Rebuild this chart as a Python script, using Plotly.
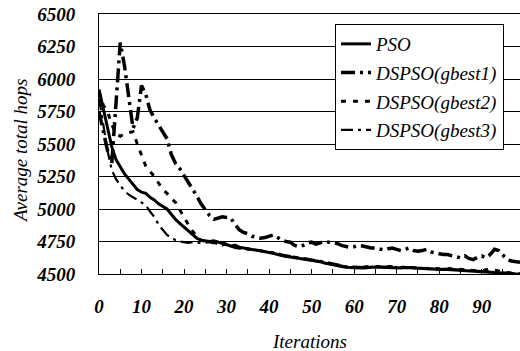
import plotly.graph_objects as go

iterations = list(range(100))

pso = [5920, 5780, 5620, 5480, 5380, 5320, 5270, 5230, 5190, 5150,
       5130, 5120, 5090, 5070, 5040, 5020, 5000, 4960, 4920, 4890,
       4860, 4830, 4800, 4775, 4760, 4755, 4750, 4755, 4745, 4730,
       4725, 4715, 4720, 4705, 4700, 4695, 4690, 4685, 4680, 4670,
       4665, 4660, 4650, 4640, 4635, 4630, 4625, 4620, 4615, 4612,
       4608, 4600, 4595, 4585, 4578, 4570, 4562, 4556, 4552, 4550,
       4548, 4546, 4546, 4548, 4552, 4554, 4552, 4550, 4552, 4550,
       4548, 4546, 4550, 4548, 4545, 4542, 4540, 4538, 4538, 4536,
       4535, 4536, 4534, 4532, 4532, 4530, 4528, 4525, 4522, 4520,
       4518, 4516, 4515, 4514, 4512, 4510, 4508, 4505, 4502, 4498]

gbest1 = [5750, 5600, 5450, 5350, 5800, 6280, 6100, 5850, 5620, 5700,
          5950, 5880, 5760, 5700, 5650, 5600, 5540, 5420, 5350, 5310,
          5260, 5210, 5160, 5100, 5040, 4990, 4950, 4920, 4930, 4940,
          4935, 4930, 4880, 4840, 4820, 4810, 4790, 4780, 4775, 4780,
          4790, 4800, 4780, 4760, 4750, 4745, 4720, 4710, 4720, 4740,
          4745, 4730, 4740, 4750, 4745, 4740, 4735, 4720, 4710, 4705,
          4710, 4720, 4715, 4705, 4700, 4700, 4690, 4685, 4695, 4700,
          4690, 4680, 4690, 4700, 4680, 4675, 4680, 4690, 4670, 4660,
          4655, 4650, 4650, 4640, 4630, 4625, 4640, 4620, 4610, 4630,
          4640, 4625, 4650, 4690, 4680, 4640, 4610, 4600, 4595, 4590]

gbest2 = [5900, 5800, 5750, 5650, 5580, 5560, 5580, 5590, 5595, 5500,
          5420, 5330, 5290, 5250, 5200, 5150, 5120, 5080, 5050, 4990,
          4940, 4880, 4830, 4790, 4760, 4750, 4745, 4740, 4750, 4740,
          4725, 4715, 4720, 4705, 4700, 4690, 4690, 4685, 4675, 4670,
          4665, 4660, 4655, 4645, 4640, 4632, 4628, 4622, 4618, 4612,
          4610, 4605, 4600, 4590, 4582, 4575, 4565, 4560, 4555, 4552,
          4550, 4548, 4552, 4556, 4560, 4558, 4556, 4555, 4558, 4556,
          4552, 4550, 4554, 4552, 4548, 4545, 4544, 4542, 4545, 4542,
          4540, 4545, 4542, 4538, 4536, 4535, 4533, 4530, 4528, 4525,
          4525, 4535, 4540, 4530, 4520, 4515, 4512, 4508, 4505, 4502]

gbest3 = [5850, 5650, 5450, 5300, 5230, 5180, 5140, 5110, 5090, 5070,
          5050, 5030, 4980, 4940, 4880, 4840, 4800, 4780, 4760, 4750,
          4745, 4740, 4745, 4740, 4738, 4740, 4745, 4740, 4730, 4720,
          4725, 4710, 4700, 4695, 4700, 4695, 4690, 4688, 4682, 4675,
          4670, 4665, 4660, 4650, 4645, 4638, 4632, 4628, 4622, 4618,
          4614, 4610, 4602, 4595, 4588, 4580, 4572, 4565, 4560, 4558,
          4556, 4552, 4550, 4552, 4556, 4560, 4558, 4555, 4557, 4555,
          4553, 4550, 4552, 4553, 4550, 4547, 4545, 4543, 4542, 4540,
          4540, 4541, 4540, 4537, 4535, 4534, 4532, 4530, 4527, 4524,
          4522, 4520, 4518, 4517, 4515, 4513, 4510, 4507, 4504, 4500]

series_names = ["PSO", "DSPSO(gbest1)", "DSPSO(gbest2)", "DSPSO(gbest3)"]
x_tick_vals = [0, 5, 10, 15, 20, 25, 30, 35, 40, 45, 50, 55, 60, 65, 70, 75, 80, 85, 90, 95]
x_tick_labels = ["0", "", "10", "", "20", "", "30", "", "40", "", "50", "", "60", "", "70", "", "80", "", "90", ""]
y_tick_vals = [4500, 4750, 5000, 5250, 5500, 5750, 6000, 6250, 6500]
y_tick_labels = ["4500", "4750", "5000", "5250", "5500", "5750", "6000", "6250", "6500"]

FONT = "Liberation Serif"


def bi(s):
    return f"<b><i>{s}</i></b>" if s else ""


styles = [dict(width=3),
          dict(width=3.5, dash="14px,5px,3px,5px"),
          dict(width=3, dash="5px,7px"),
          dict(width=2.2, dash="12px,5px,3px,5px")]

fig = go.Figure()
for name, ys, st in zip(series_names, [pso, gbest1, gbest2, gbest3], styles):
    fig.add_trace(go.Scatter(x=iterations, y=ys, mode="lines", name=f"<i>{name}</i>",
                             legendgroup=name,
                             line=dict(color="black", **st)))

fig.update_layout(
    width=520, height=351,
    margin=dict(l=99, r=0, t=14, b=77, autoexpand=False),
    paper_bgcolor="white", plot_bgcolor="white",
    font=dict(family=FONT, color="black", size=19),
    showlegend=True,
    legend=dict(x=0.5606, y=0.9615, xanchor="left", yanchor="top",
                bgcolor="white", bordercolor="black", borderwidth=1,
                font=dict(family=FONT, size=19, color="black"),
                tracegroupgap=1, itemwidth=30),
    xaxis=dict(range=[0, 99], tickvals=x_tick_vals, ticktext=[bi(t) for t in x_tick_labels],
               ticks="inside", ticklen=5, tickcolor="black", tickwidth=1,
               showgrid=False, zeroline=False, automargin=False,
               showline=True, linecolor="black", linewidth=1, mirror=True,
               ticklabelstandoff=15,
               tickfont=dict(family=FONT, size=19)),
    yaxis=dict(range=[4500, 6500], tickvals=y_tick_vals, ticktext=[bi(t) for t in y_tick_labels],
               showgrid=True, gridcolor="black", gridwidth=1, zeroline=False,
               showline=True, linecolor="black", linewidth=1, automargin=False,
               ticks="", ticklabelstandoff=19,
               tickfont=dict(family=FONT, size=19)),
    annotations=[
        dict(text="<i>Average total hops</i>", x=-0.1876, y=0.473, xref="paper", yref="paper",
             textangle=-90, showarrow=False, xanchor="center", yanchor="middle",
             font=dict(family=FONT, size=19)),
        dict(text="<i>Iterations</i>", x=0.5, y=-0.2615, xref="paper", yref="paper",
             showarrow=False, xanchor="center", yanchor="middle",
             font=dict(family=FONT, size=19)),
    ],
)

fig.write_html("out.html", config={"displayModeBar": False},
               post_script="document.body.style.margin='0';")
